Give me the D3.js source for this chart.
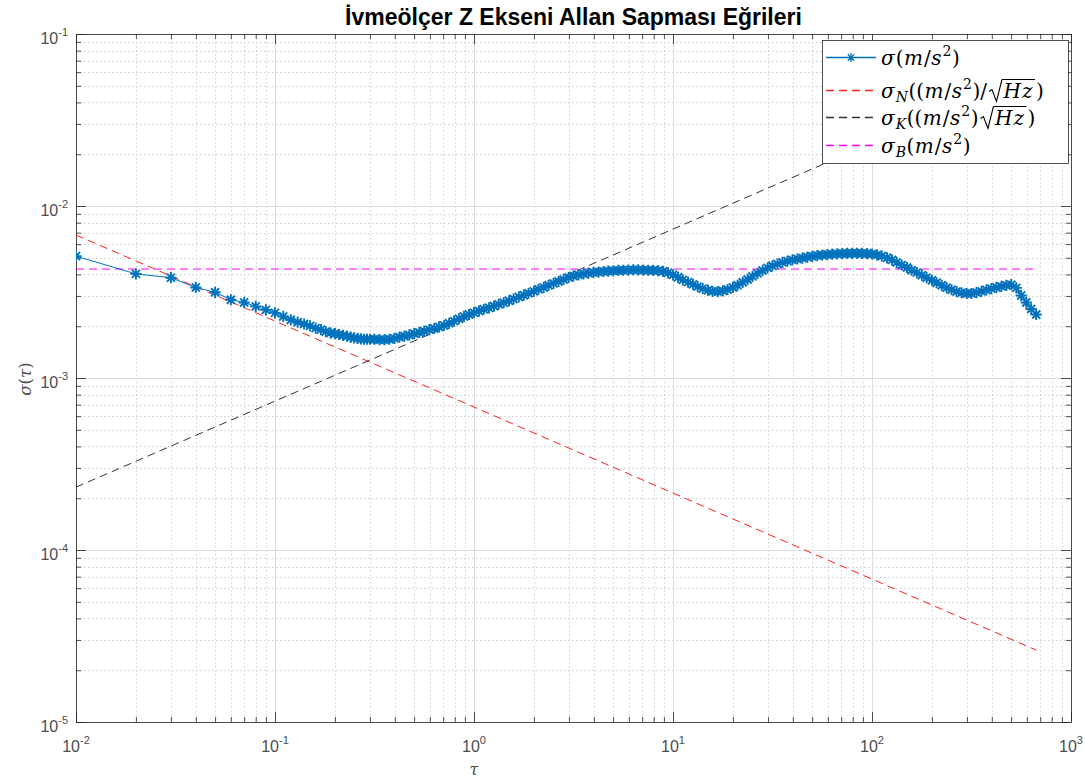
<!DOCTYPE html>
<html>
<head>
<meta charset="utf-8">
<script src="https://cdn.jsdelivr.net/npm/d3@7/dist/d3.min.js"></script>
<style>
  html, body { margin: 0; padding: 0; background: #fff; }
  svg { display: block; }
  text { font-family: "Liberation Sans", Arial, Helvetica, sans-serif; }
</style>
</head>
<body>
<svg id="chart" width="1085" height="779"></svg>
<script>
// Allan deviation of the Z-axis accelerometer, σ(τ) in m/s²
const tau = [
  0.01, 0.02, 0.03, 0.04, 0.05, 0.06, 0.07, 0.08, 0.09, 0.10,
  0.11, 0.12, 0.13, 0.14, 0.15, 0.16, 0.17, 0.18, 0.19, 0.20,
  0.21, 0.22, 0.23, 0.24, 0.25, 0.26, 0.27, 0.28, 0.29, 0.30,
  0.316, 0.335, 0.355, 0.376, 0.398, 0.422, 0.447, 0.473, 0.501, 0.531,
  0.562, 0.596, 0.631, 0.668, 0.708, 0.750, 0.794, 0.841, 0.891, 0.944,
  1.00, 1.06, 1.12, 1.19, 1.26, 1.33, 1.41, 1.50, 1.58, 1.68,
  1.78, 1.88, 2.00, 2.11, 2.24, 2.37, 2.51, 2.66, 2.82, 2.99,
  3.16, 3.35, 3.55, 3.76, 3.98, 4.22, 4.47, 4.73, 5.01, 5.31,
  5.62, 5.96, 6.31, 6.68, 7.08, 7.50, 7.94, 8.41, 8.91, 9.44,
  10.0, 10.6, 11.2, 11.9, 12.6, 13.3, 14.1, 15.0, 15.8, 16.8,
  17.8, 18.8, 20.0, 21.1, 22.4, 23.7, 25.1, 26.6, 28.2, 29.9,
  31.6, 33.5, 35.5, 37.6, 39.8, 42.2, 44.7, 47.3, 50.1, 53.1,
  56.2, 59.6, 63.1, 66.8, 70.8, 75.0, 79.4, 84.1, 89.1, 94.4,
  100, 106, 112, 119, 126, 133, 141, 150, 158, 168,
  178, 188, 200, 211, 224, 237, 251, 266, 282, 299,
  316, 335, 355, 376, 398, 422, 447, 473, 501, 531,
  562, 596, 631, 668
];
// σ values in units of 10⁻³ m/s²
const sigmaMilli = [
  5.11, 4.03, 3.83, 3.36, 3.15, 2.85, 2.75, 2.61, 2.49, 2.39,
  2.28, 2.18, 2.11, 2.06, 2.01, 1.95, 1.91, 1.86, 1.83, 1.81,
  1.79, 1.77, 1.75, 1.73, 1.71, 1.70, 1.69, 1.68, 1.68, 1.68,
  1.68, 1.67, 1.67, 1.68, 1.70, 1.73, 1.75, 1.78, 1.81, 1.84,
  1.87, 1.91, 1.94, 1.98, 2.02, 2.08, 2.14, 2.21, 2.28, 2.34,
  2.40, 2.45, 2.51, 2.56, 2.62, 2.68, 2.74, 2.81, 2.88, 2.96,
  3.03, 3.11, 3.19, 3.28, 3.36, 3.46, 3.55, 3.64, 3.74, 3.84,
  3.92, 3.98, 4.03, 4.07, 4.11, 4.13, 4.16, 4.18, 4.20, 4.22,
  4.23, 4.24, 4.25, 4.25, 4.24, 4.23, 4.22, 4.21, 4.17, 4.09,
  3.98, 3.85, 3.72, 3.61, 3.50, 3.40, 3.31, 3.24, 3.19, 3.18,
  3.21, 3.27, 3.36, 3.46, 3.60, 3.74, 3.90, 4.06, 4.22, 4.37,
  4.49, 4.60, 4.70, 4.78, 4.86, 4.92, 4.98, 5.05, 5.10, 5.15,
  5.19, 5.22, 5.25, 5.27, 5.29, 5.30, 5.31, 5.31, 5.30, 5.29,
  5.26, 5.20, 5.12, 5.00, 4.86, 4.70, 4.54, 4.39, 4.23, 4.10,
  3.96, 3.83, 3.70, 3.58, 3.46, 3.35, 3.26, 3.18, 3.13, 3.10,
  3.10, 3.14, 3.19, 3.25, 3.31, 3.36, 3.41, 3.46, 3.49, 3.34,
  3.02, 2.75, 2.52, 2.34
];

// Fitted noise lines, end points (τ, σ)
const tauFit = [0.01, 668];
const sigmaN = [6.78e-3, 2.62e-5];   // angle random walk, slope −1/2
const sigmaK = [2.32e-4, 6.00e-2];   // rate random walk, slope +1/2
const sigmaB = [4.30e-3, 4.30e-3];   // bias instability

// Axis tick decades
const xDecades = [-2, -1, 0, 1, 2, 3];
const yDecades = [-5, -4, -3, -2, -1];

const titleText = "İvmeölçer Z Ekseni Allan Sapması Eğrileri";

const svg = d3.select("#chart");
const L = 76, R = 1071, T = 34, B = 722;
const x = d3.scaleLog().domain([1e-2, 1e3]).range([L, R]);
const y = d3.scaleLog().domain([1e-5, 1e-1]).range([B, T]);

const axisColor = "#262626";
const blue = "#0072BD";
const red = "#ff2020", black = "#333333", magenta = "#ff00ff";

// grid
const xAll = x.ticks();
const yAll = y.ticks();
const isMajor = v => Math.abs(Math.log10(v) - Math.round(Math.log10(v))) < 1e-9;
const grid = svg.append("g");
grid.selectAll(".xminor").data(xAll.filter(v => !isMajor(v))).join("line")
  .attr("x1", d => Math.round(x(d)) + 0.5).attr("x2", d => Math.round(x(d)) + 0.5)
  .attr("y1", T).attr("y2", B)
  .attr("stroke", "#cfcfcf").attr("stroke-width", 1).attr("stroke-dasharray", "1.5,2.5");
grid.selectAll(".yminor").data(yAll.filter(v => !isMajor(v))).join("line")
  .attr("y1", d => Math.round(y(d)) + 0.5).attr("y2", d => Math.round(y(d)) + 0.5)
  .attr("x1", L).attr("x2", R)
  .attr("stroke", "#cfcfcf").attr("stroke-width", 1).attr("stroke-dasharray", "1.5,2.5");
grid.selectAll(".xmajor").data(xAll.filter(isMajor)).join("line")
  .attr("x1", d => Math.round(x(d)) + 0.5).attr("x2", d => Math.round(x(d)) + 0.5)
  .attr("y1", T).attr("y2", B)
  .attr("stroke", "#dedede").attr("stroke-width", 1);
grid.selectAll(".ymajor").data(yAll.filter(isMajor)).join("line")
  .attr("y1", d => Math.round(y(d)) + 0.5).attr("y2", d => Math.round(y(d)) + 0.5)
  .attr("x1", L).attr("x2", R)
  .attr("stroke", "#dedede").attr("stroke-width", 1);

// axes with inward ticks on all four sides
function styleAxis(g) {
  g.select(".domain").remove();
  g.selectAll(".tick line").attr("stroke", axisColor).attr("stroke-width", 0.8);
}
const xMaj = xAll.filter(isMajor), xMin = xAll.filter(v => !isMajor(v));
const yMaj = yAll.filter(isMajor), yMin = yAll.filter(v => !isMajor(v));
[[d3.axisBottom, B], [d3.axisTop, T]].forEach(([ax, pos]) => {
  svg.append("g").attr("transform", `translate(0,${pos})`)
    .call(ax(x).tickValues(xMaj).tickSize(-10).tickFormat("")).call(styleAxis);
  svg.append("g").attr("transform", `translate(0,${pos})`)
    .call(ax(x).tickValues(xMin).tickSize(-5).tickFormat("")).call(styleAxis);
});
[[d3.axisLeft, L], [d3.axisRight, R]].forEach(([ax, pos]) => {
  svg.append("g").attr("transform", `translate(${pos},0)`)
    .call(ax(y).tickValues(yMaj).tickSize(-10).tickFormat("")).call(styleAxis);
  svg.append("g").attr("transform", `translate(${pos},0)`)
    .call(ax(y).tickValues(yMin).tickSize(-5).tickFormat("")).call(styleAxis);
});
svg.append("rect").attr("x", L + 0.5).attr("y", T + 0.5)
  .attr("width", R - L).attr("height", B - T)
  .attr("fill", "none").attr("stroke", axisColor).attr("stroke-width", 0.8);

// tick labels 10^n
const labColor = "#4d4d4d";
xDecades.forEach(e => {
  const t = svg.append("text").attr("x", x(Math.pow(10, e))).attr("y", 752)
    .attr("text-anchor", "middle").attr("fill", labColor).style("font-size", "16px");
  t.append("tspan").text("10");
  t.append("tspan").attr("dy", -8).style("font-size", "11px").text(String(e));
});
yDecades.forEach(e => {
  const t = svg.append("text").attr("x", 68).attr("y", y(Math.pow(10, e)) + 10)
    .attr("text-anchor", "end").attr("fill", labColor).style("font-size", "16px");
  t.append("tspan").text("10");
  t.append("tspan").attr("dy", -8).style("font-size", "11px").text(String(e));
});

// axis titles
const serif = "'DejaVu Serif', 'Liberation Serif', serif";
svg.append("text").attr("x", 474).attr("y", 775).attr("text-anchor", "middle")
  .attr("fill", labColor).style("font-family", serif).style("font-style", "italic")
  .style("font-size", "16px").text("τ");
const yl = svg.append("text").attr("transform", "translate(31,379) rotate(-90)")
  .attr("text-anchor", "middle").attr("fill", labColor)
  .style("font-family", serif).style("font-size", "16.5px");
yl.append("tspan").style("font-style", "italic").text("σ");
yl.append("tspan").text("(");
yl.append("tspan").style("font-style", "italic").text("τ");
yl.append("tspan").text(")");

// title
svg.append("text").attr("x", (L + R) / 2).attr("y", 25).attr("text-anchor", "middle")
  .attr("fill", "#000").style("font-weight", "bold").style("font-size", "23px")
  .text(titleText);

// plot area clip
svg.append("clipPath").attr("id", "plotClip").append("rect")
  .attr("x", L).attr("y", T).attr("width", R - L).attr("height", B - T);
const plot = svg.append("g").attr("clip-path", "url(#plotClip)");

// fitted lines
const lineGen = d3.line().x(d => x(d[0])).y(d => y(d[1]));
const fits = [
  { v: sigmaN, color: red },
  { v: sigmaK, color: black },
  { v: sigmaB, color: magenta }
];
fits.forEach(f => {
  plot.append("path").datum(tauFit.map((t, i) => [t, f.v[i]]))
    .attr("d", lineGen).attr("fill", "none").attr("stroke", f.color)
    .attr("stroke-width", 1).attr("stroke-dasharray", "8,5");
});

// measured Allan deviation
const data = tau.map((t, i) => [t, sigmaMilli[i] * 1e-3]);
plot.append("path").datum(data).attr("d", lineGen)
  .attr("fill", "none").attr("stroke", blue).attr("stroke-width", 1);
function starPath(r) {
  const d = r * 0.72;
  return `M${-r},0H${r}M0,${-r}V${r}M${-d},${-d}L${d},${d}M${-d},${d}L${d},${-d}`;
}
plot.selectAll(".mk").data(data).join("path")
  .attr("transform", d => `translate(${x(d[0])},${y(d[1])})`)
  .attr("d", starPath(5.6)).attr("fill", "none").attr("stroke", blue).attr("stroke-width", 1.9);

// legend
const lg = svg.append("g");
lg.append("rect").attr("x", 822.5).attr("y", 40.5).attr("width", 246).attr("height", 123)
  .attr("fill", "#fff").attr("stroke", axisColor).attr("stroke-width", 0.8);

const rows = [
  { y: 57.5, color: blue, dash: null, marker: true,
    segs: [{ t: "σ", it: 1 }, { t: "(" }, { t: "m", it: 1 }, { t: "/" }, { t: "s", it: 1 }, { t: "2", sup: 1 }, { t: ")" }] },
  { y: 90.5, color: red, dash: "8,5",
    segs: [{ t: "σ", it: 1 }, { t: "N", it: 1, sub: 1 }, { t: "((" }, { t: "m", it: 1 }, { t: "/" }, { t: "s", it: 1 }, { t: "2", sup: 1 }, { t: ")/" }, { rad: "Hz" }, { t: ")" }] },
  { y: 117.5, color: black, dash: "8,5",
    segs: [{ t: "σ", it: 1 }, { t: "K", it: 1, sub: 1 }, { t: "((" }, { t: "m", it: 1 }, { t: "/" }, { t: "s", it: 1 }, { t: "2", sup: 1 }, { t: ")" }, { rad: "Hz" }, { t: ")" }] },
  { y: 145.5, color: magenta, dash: "8,5",
    segs: [{ t: "σ", it: 1 }, { t: "B", it: 1, sub: 1 }, { t: "(" }, { t: "m", it: 1 }, { t: "/" }, { t: "s", it: 1 }, { t: "2", sup: 1 }, { t: ")" }] }
];

rows.forEach(r => {
  lg.append("path").attr("d", `M826,${r.y}H876`)
    .attr("fill", "none").attr("stroke", r.color).attr("stroke-width", 1.4)
    .attr("stroke-dasharray", r.dash || null);
  if (r.marker) lg.append("path").attr("transform", `translate(851,${r.y})`).attr("d", starPath(4.5))
    .attr("fill", "none").attr("stroke", blue).attr("stroke-width", 1.2);
  const base = r.y + 7;
  let cx = 881;
  r.segs.forEach(s => {
    if (s.rad) {
      const top = base - 18;
      cx += 1.5;
      lg.append("path")
        .attr("d", `M${cx},${base - 6}L${cx + 3},${base - 8}L${cx + 7.5},${base + 4}L${cx + 13},${top}`)
        .attr("fill", "none").attr("stroke", "#000").attr("stroke-width", 1.1);
      const t = lg.append("text").attr("x", cx + 14.5).attr("y", base).attr("fill", "#000")
        .style("font-family", serif).style("font-style", "italic").style("font-size", "20px")
        .style("letter-spacing", "1px").text(s.rad);
      const w = t.node().getComputedTextLength();
      lg.append("line").attr("x1", cx + 13).attr("x2", cx + 16 + w).attr("y1", top).attr("y2", top)
        .attr("stroke", "#000").attr("stroke-width", 1.1);
      cx += 17 + w;
    } else {
      const small = s.sub || s.sup;
      const t = lg.append("text").attr("x", cx)
        .attr("y", base + (s.sub ? 4.5 : s.sup ? -8.5 : 0)).attr("fill", "#000")
        .style("font-family", serif).style("font-style", s.it ? "italic" : "normal")
        .style("font-size", small ? "14px" : "20px").text(s.t);
      cx += t.node().getComputedTextLength() + (s.it && !small ? 1 : 0.5);
    }
  });
});
</script>
</body>
</html>
